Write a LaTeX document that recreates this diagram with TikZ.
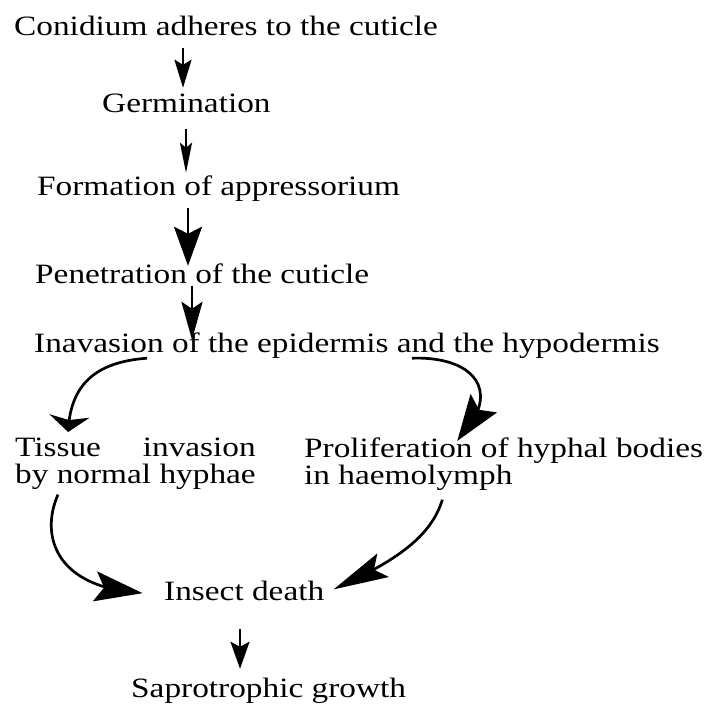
\documentclass[tikz,border=0pt]{standalone}
\usepackage{fontspec}
\setmainfont{Liberation Serif}[FakeStretch=1.19]
\usetikzlibrary{arrows.meta, bending, positioning, calc}
\newlength\hyphwidth
\tikzset{
	stage/.style={inner sep=0pt, anchor=base west, font=\fontsize{28}{27}\selectfont, text height=19pt, text depth=6pt},
	twostage/.style={inner sep=0pt, anchor=north west, align=left, font=\fontsize{28}{27}\selectfont},
	flowarrow/.style={line width=2.7pt, draw=black},
	head/.style n args={3}{-{Stealth[length=#1pt, width=#2pt, inset=#3pt]}},
}
\begin{document}
\settowidth{\hyphwidth}{\fontsize{28}{27}\selectfont by normal hyphae}%
\begin{tikzpicture}[x=1pt, y=-1pt]
	\useasboundingbox (0,0) rectangle (704,711);
	\node[stage] (conid) at (14,36) {Conidium adheres to the cuticle};
	\node[stage] (germ) at (102,113) {Germination};
	\node[stage] (form) at (37,196) {Formation of appressorium};
	\node[stage] (pen) at (35,283) {Penetration of the cuticle};
	\node[stage] (inav) at (34,352) {Inavasion of the epidermis and the hypodermis};
	\node[twostage] (tissue) at (15,438) {\makebox[\hyphwidth][l]{Tissue\hfill invasion}\\by normal hyphae};
	\node[twostage] (prolif) at (304,438) {Proliferation of hyphal bodies\\in haemolymph};
	\node[stage] (insect) at (164,600) {Insect death};
	\node[stage] (sapro) at (131,697) {Saprotrophic growth};
	\draw[flowarrow, head={28}{17}{5}, shorten <=6pt, shorten >=6pt] (conid.south -| 183,0) -- (germ.north -| 183,0);
	\draw[flowarrow, head={30}{12}{5}, shorten <=10pt, shorten >=4pt] (germ.south -| 186,0) -- (form.north -| 186,0);
	\draw[flowarrow, head={39}{28}{7}, shorten <=6pt, shorten >=-2pt] (form.south -| 188,0) -- (pen.north -| 188,0);
	\draw[flowarrow, head={38}{21}{7}, shorten <=-3pt, shorten >=-7pt] (pen.south -| 192,0) -- (inav.north -| 192,0);
	\draw[flowarrow, head={16}{40}{4}, shorten >=6pt] (inav.south -| 147,0) .. controls (95,362) and (68,385) .. (tissue.north -| 68,0);
	\draw[flowarrow, head={46}{32}{8}, shorten >=-4pt] (inav.south -| 412,0) .. controls (470,356) and (505,388) .. (prolif.north -| 460,0);
	\draw[flowarrow, head={48}{30}{9}, shorten <=5pt, shorten >=22pt] (tissue.south -| 60,0) .. controls (38,540) and (58,596) .. (insect.west);
	\draw[flowarrow, head={55}{26}{10}, shorten <=9pt, shorten >=10pt] (prolif.south -| 445,0) .. controls (430,540) and (395,562) .. (insect.east);
	\draw[flowarrow, head={27}{19}{5}, shorten <=23pt, shorten >=9pt] (insect.south -| 240,0) -- (sapro.north -| 240,0);
\end{tikzpicture}
\end{document}
